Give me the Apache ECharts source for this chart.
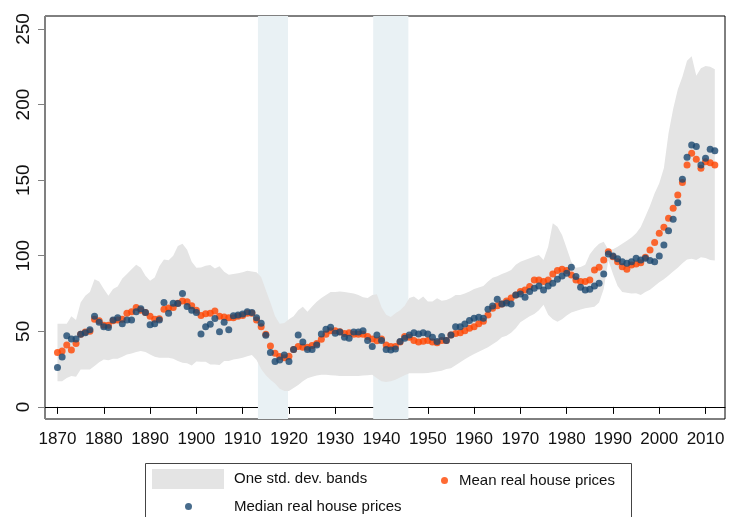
<!DOCTYPE html>
<html>
<head>
<meta charset="utf-8">
<script src="https://cdn.jsdelivr.net/npm/echarts@6/dist/echarts.min.js"></script>
<style>
  html, body { margin: 0; padding: 0; background: #fff; }
  #chart { width: 729px; height: 517px; }
</style>
</head>
<body>
<div id="chart"></div>
<script>
// years 1870 - 2012
var years = [];
for (var y = 1870; y <= 2012; y++) years.push(y);

var medianPrices = [
  26, 33, 47, 45, 45, 48, 49, 51, 60, 56,
  53, 52.5, 57.5, 59, 55, 57.5, 57.5, 63, 65, 62.4,
  54.4, 55, 57.5, 69, 62, 68.6, 68.4, 75, 66.5, 64,
  62.5, 48.3, 53, 54.7, 58.5, 49.8, 56, 51, 60.3, 60.8,
  61.5, 63, 62.4, 58.9, 55.3, 47.4, 36, 30, 31, 34.4,
  30, 38, 47.6, 43, 38, 38, 41, 48.3, 51.4, 52.7,
  48.7, 49.6, 46, 45.4, 49.6, 49.6, 50.3, 43.9, 39.9, 47.6,
  43.9, 38, 37.6, 38.3, 43.2, 45.4, 47.6, 49, 48.3, 49,
  48.3, 46, 43.2, 46.5, 43.9, 47.6, 53.1, 53.1, 54.9, 57.1,
  58.6, 59.3, 58.6, 64.6, 66.8, 71.2, 68, 68.8, 68, 74,
  74.7, 72.5, 76.3, 78.5, 80, 77.4, 80, 81.8, 84.4, 86.6,
  88.4, 92.4, 86.2, 79.2, 77.4, 77.8, 80, 81.8, 88, 101.2,
  99.9, 98, 96.1, 95, 96.1, 98.3, 97.2, 98.3, 96.8, 96.1,
  99.9, 107.1, 116.6, 124.1, 135.1, 150.6, 165.1, 173.3, 172.2, 160,
  164.5, 170.4, 169.5
];

var meanPrices = [
  36, 37, 41, 37.6, 42, 48, 49.5, 50, 58, 57,
  54, 54, 57, 57.5, 58, 62, 63, 65.7, 64, 62.4,
  60, 58, 58.4, 64.6, 65.5, 65.7, 68.6, 70, 69.5, 67,
  64, 60.4, 61.7, 62, 63.4, 60, 59.5, 59, 59, 60,
  60.5, 62, 62, 57.5, 53, 48, 40.3, 35.5, 33.3, 32.5,
  33.5, 38, 40, 39.5, 39.5, 40.7, 42, 44.8, 48, 50.3,
  50.3, 49.7, 48.5, 49, 48, 48, 48, 46.5, 44.9, 43.8,
  44.9, 41, 40, 40, 43, 46.5, 46, 44, 43, 43.5,
  44, 43, 42.5, 44, 44, 47.6, 48.5, 49, 50.3, 52,
  53, 55, 56.6, 60.8, 65.3, 67, 68, 70, 72, 74,
  76.3, 77.4, 79.6, 84, 84, 82.9, 84, 88, 90.2, 91,
  90.2, 87.3, 84, 82.9, 82.9, 84, 90.6, 92.4, 97.2, 102.7,
  99.4, 96, 92.8, 91, 93.9, 94.6, 95.4, 99, 103.8, 108.7,
  114.9, 118.8, 124.8, 131.4, 140.2, 148.4, 160, 167.8, 163.8, 157.9,
  162.2, 161.6, 160
];

var bandUpper = [
  55, 55, 55, 60, 57.5, 69, 73.5, 76, 84.5, 83,
  78, 73.5, 78, 79.6, 85, 88, 91, 94, 92, 86.7,
  83.4, 85.6, 93, 97.5, 97, 100, 106.5, 108, 104, 96,
  92, 92.3, 93.4, 93.8, 91.6, 93, 89.4, 87.5, 88, 88.5,
  89, 90, 89.6, 89, 86, 77.4, 69, 60, 55, 55.5,
  58, 60, 64, 66.3, 63, 66.5, 69.5, 72, 74, 76,
  76, 76.3, 76, 75.5, 75, 74, 72.5, 72, 74, 74.5,
  66, 61, 59.5, 62, 64, 67, 72, 73, 70.8, 73,
  69.7, 69.7, 71.9, 70.3, 70.8, 72, 74, 74, 75, 76.3,
  78, 79, 80, 83, 85.5, 86.5, 88, 89, 90.6, 94,
  96, 97.2, 98.3, 99.5, 100.5, 97.2, 106, 121.5, 119.2, 113.8,
  105, 96, 92, 92.5, 94, 101, 105, 108, 109.3, 104,
  104.3, 106, 108, 110, 112, 114.8, 119, 125.9, 133, 141.3,
  148, 158, 181, 197, 210, 218.4, 229, 232, 219, 224,
  225.5, 225, 223.3
];

var bandLower = [
  17, 17, 19.2, 20.4, 20, 24.8, 24.8, 24.8, 27, 29.6,
  31.4, 30.8, 31.9, 31.9, 33.2, 34.7, 35.4, 36.3, 37, 36.3,
  34.7, 33.2, 32.5, 32.5, 32.5, 31.9, 30.3, 29.2, 28.8, 27.4,
  30, 29.9, 29.9, 28.1, 28.1, 27.7, 30.3, 30.3, 31.4, 31.9,
  32.5, 33.5, 34.4, 31, 25, 21, 18, 15.5, 12, 10.5,
  10.5, 12.5, 14.5, 17, 19, 20, 20.8, 21.2, 21.2, 21,
  20.8, 20.5, 20.5, 20.5, 20.5, 20.5, 20.8, 21, 21.2, 19,
  17, 16.5, 17, 17.9, 19.5, 21, 22.3, 22.3, 22.3, 22.3,
  22.5, 23, 23.5, 24, 25, 25.6, 27.5, 29.5, 31.5, 33.3,
  35, 36.5, 38, 39.5, 41.5, 43.5, 46, 47, 49, 52,
  56, 58, 60, 61.5, 64, 67.5, 61, 58, 56.4, 58,
  60.5, 62.5, 63.5, 64.5, 65.3, 65.8, 66.3, 69, 78, 97,
  88, 80, 76, 75.5, 75, 75.2, 74, 76, 77.5, 80,
  82.5, 84.5, 87, 89.5, 92, 95, 97.5, 98, 97.2, 99,
  98.5, 97.2, 96.8
];

// war periods (shaded)
var warPeriods = [[1913.3, 1919.8], [1938.2, 1945.8]];

var xTicks = [1870, 1880, 1890, 1900, 1910, 1920, 1930, 1940, 1950, 1960, 1970, 1980, 1990, 2000, 2010];
var yTicks = [0, 50, 100, 150, 200, 250];

var bandColor = '#e4e4e4';
var warColor = '#e9f1f4';
var meanColor = '#ff4500';
var medianColor = '#1a476f';
var txtFont = '"Liberation Sans", Arial, sans-serif';

function pairs(vals) {
  return years.map(function (yr, i) { return [yr, vals[i]]; });
}

var myChart = echarts.init(document.getElementById('chart'));

var option = {
  animation: false,
  grid: {
    left: 45, right: 4, top: 16, bottom: 98,
    show: true, borderColor: '#000', borderWidth: 1, backgroundColor: 'transparent'
  },
  xAxis: {
    type: 'value',
    min: 1867.3,
    max: 2014.2,
    splitLine: { show: false },
    axisLine: { lineStyle: { color: '#000', width: 1 } },
    axisTick: { customValues: xTicks, length: 7, lineStyle: { color: '#000' } },
    axisLabel: {
      customValues: xTicks,
      showMinLabel: true,
      showMaxLabel: true,
      formatter: function (v) { return String(v); },
      margin: 12,
      fontSize: 17,
      fontFamily: txtFont,
      color: '#111'
    }
  },
  yAxis: {
    type: 'value',
    min: -8,
    max: 258.6,
    splitLine: { show: false },
    axisLine: { show: true, lineStyle: { color: '#808080', width: 1 } },
    axisTick: { show: true, customValues: yTicks, length: 7, lineStyle: { color: '#808080' } },
    axisLabel: {
      customValues: yTicks,
      rotate: 90,
      margin: 12,
      fontSize: 19,
      fontFamily: txtFont,
      color: '#111'
    }
  },
  legend: [
    {
      data: [{ name: 'One std. dev. bands', icon: 'rect' }],
      left: 152, top: 469, padding: 0,
      itemWidth: 72, itemHeight: 20,
      selectedMode: false,
      textStyle: { fontSize: 15, color: '#111', padding: [0, 0, 0, 5], fontFamily: txtFont }
    },
    {
      data: [{ name: 'Mean real house prices', icon: 'circle' }],
      left: 441, top: 473, padding: 0,
      itemWidth: 7, itemHeight: 7,
      selectedMode: false,
      textStyle: { fontSize: 15, color: '#111', padding: [0, 0, 0, 6], fontFamily: txtFont }
    },
    {
      data: [{ name: 'Median real house prices', icon: 'circle' }],
      left: 185, top: 499, padding: 0,
      itemWidth: 7, itemHeight: 7,
      selectedMode: false,
      textStyle: { fontSize: 15, color: '#111', padding: [0, 0, 0, 37], fontFamily: txtFont }
    }
  ],
  graphic: [
    {
      type: 'rect', z: -1,
      shape: { x: 145.5, y: 463.5, width: 486, height: 70 },
      style: { fill: '#fff', stroke: '#444', lineWidth: 1 }
    }
  ],
  series: [
    {
      // war shading first, then the std. dev. band on top of it
      name: 'One std. dev. bands',
      type: 'custom',
      data: [[years[0], bandLower[0]]],
      itemStyle: { color: bandColor },
      silent: true,
      clip: true,
      z: 2,
      renderItem: function (params, api) {
        var cs = params.coordSys;
        var kids = warPeriods.map(function (p) {
          var x0 = api.coord([p[0], 0])[0];
          var x1 = api.coord([p[1], 0])[0];
          return {
            type: 'rect',
            shape: { x: x0, y: cs.y, width: x1 - x0, height: cs.height },
            style: { fill: warColor }
          };
        });
        var pts = [];
        for (var i = 0; i < years.length; i++) pts.push(api.coord([years[i], bandUpper[i]]));
        for (var j = years.length - 1; j >= 0; j--) pts.push(api.coord([years[j], bandLower[j]]));
        kids.push({ type: 'polygon', shape: { points: pts }, style: { fill: bandColor } });
        return { type: 'group', children: kids };
      }
    },
    {
      name: 'Mean real house prices',
      type: 'scatter',
      data: pairs(meanPrices),
      symbolSize: 7,
      itemStyle: { color: meanColor },
      z: 3
    },
    {
      name: 'Median real house prices',
      type: 'scatter',
      data: pairs(medianPrices),
      symbolSize: 7,
      itemStyle: { color: medianColor },
      z: 4
    }
  ]
};

myChart.setOption(option);
</script>
</body>
</html>
